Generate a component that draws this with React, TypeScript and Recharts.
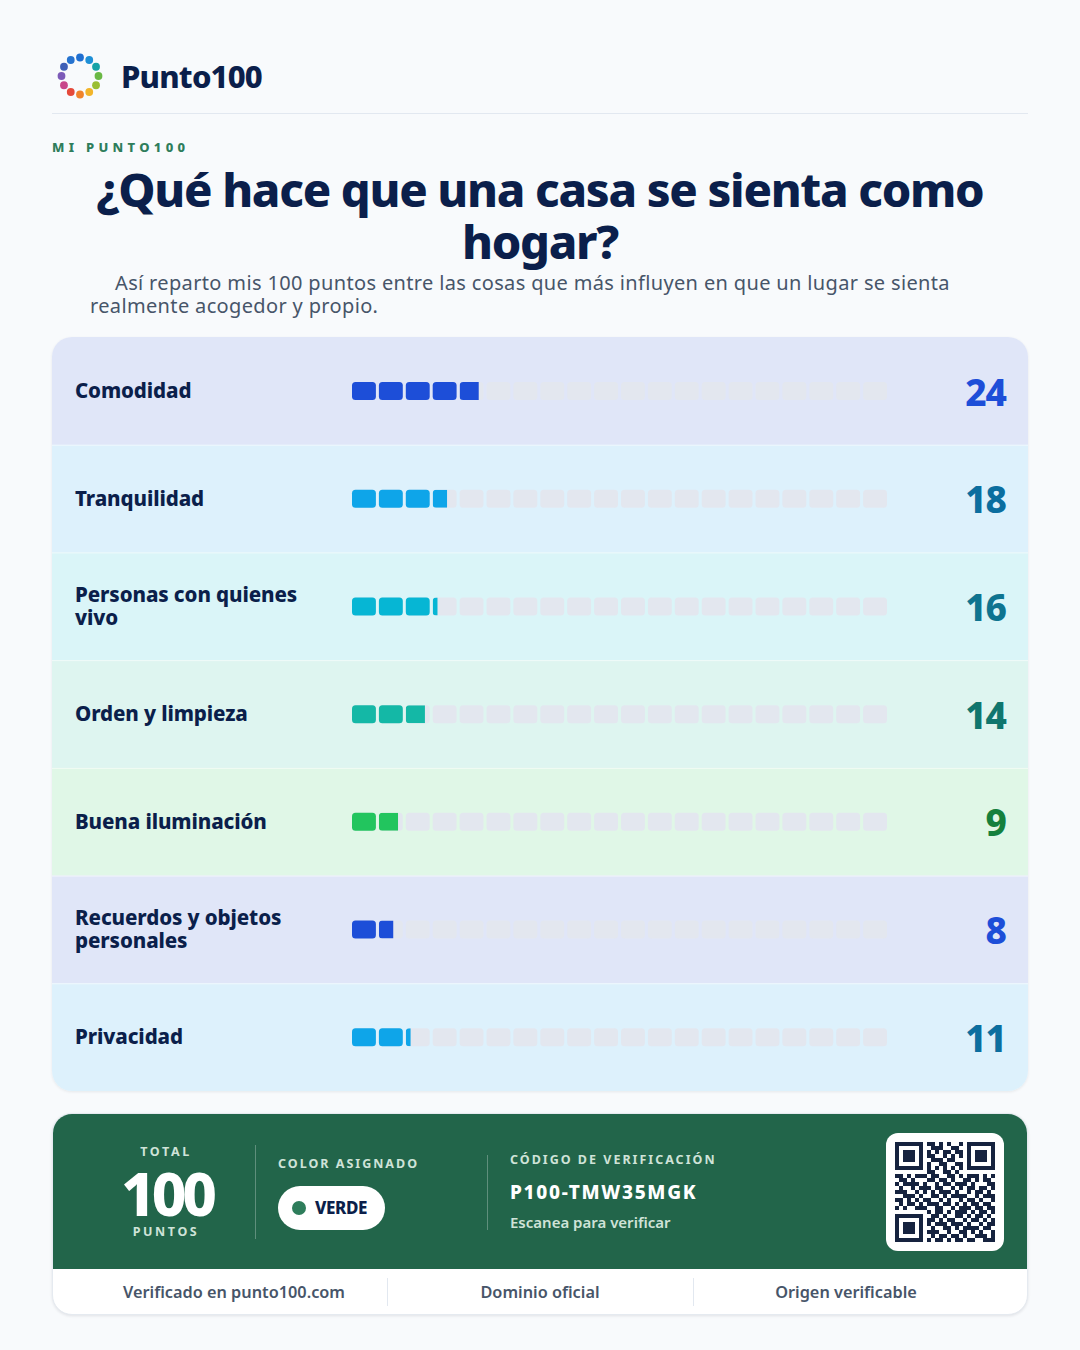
import React from 'react';
import { BarChart, Bar, XAxis, YAxis, LabelList, Text } from 'recharts';

// ---------- data ----------
const categories = [
  'Comodidad',
  'Tranquilidad',
  'Personas con quienes vivo',
  'Orden y limpieza',
  'Buena iluminación',
  'Recuerdos y objetos personales',
  'Privacidad',
];
const points = [24, 18, 16, 14, 9, 8, 11];
const barColors = ['#1D4ED8', '#0EA5E9', '#06B6D4', '#14B8A6', '#22C55E', '#1D4ED8', '#0EA5E9'];
const valueColors = ['#1D4ED8', '#0B6E9F', '#0E7490', '#0F766E', '#15803D', '#1D4ED8', '#0B6E9F'];
const rowColors = ['#E0E6F8', '#DDF1FC', '#DAF5F8', '#DEF5F0', '#E0F7E7', '#E0E6F8', '#DDF1FC'];
const MAX_POINTS = 100;
const SEGMENTS = 20;
const POINTS_PER_SEGMENT = 5;

const footerTexts = ['Verificado en punto100.com', 'Dominio oficial', 'Origen verificable'];
const logoColors = ['#1F6FD1', '#1E8FD6', '#17A2A6', '#6AB845', '#9BBE32', '#F2B52A', '#F0832B', '#E5493A', '#C8478A', '#7C5AB8', '#3E5FB6', '#2673CF'];

const qrRows = [
  '1111111011010100101111111',
  '1000001001110011001000001',
  '1011101010101101101011101',
  '1011101011001010101011101',
  '1011101001110110001011101',
  '1000001010011001101000001',
  '1111111010101010101111111',
  '0000000011001101000000000',
  '1101011101100110101110101',
  '0110100011011010011010110',
  '1011110100101101110100011',
  '0100101110110010101101101',
  '1110010101011101001011010',
  '0011101001101011110010111',
  '1101010110010100101101001',
  '0101101011101101010110110',
  '1010011100110010111011011',
  '0000000010110101110101101',
  '1111111001101001101011010',
  '1000001011010110010110101',
  '1011101010111011101001011',
  '1011101001001101011110110',
  '1011101011100100110101001',
  '1000001001011011010011101',
  '1111111010110101101100111',
];

const data = categories.map((name, i) => ({ name, value: points[i] }));

// ---------- layout constants ----------
const NAVY = '#0B1F4B';
const CHART_W = 976;
const CHART_H = 754;
const FONT = "'Noto Sans', 'Open Sans', sans-serif";

const RowBackground = (props: any) => {
  const { y, height, index } = props;
  const i = typeof index === 'number' ? index : 0;
  return (
    <g>
      <rect x={0} y={y} width={CHART_W} height={height} fill={rowColors[i]} />
      {i > 0 && <rect x={0} y={y} width={CHART_W} height={1} fill="#FFFFFF" fillOpacity={0.55} />}
    </g>
  );
};

const SegmentBar = (props: any) => {
  const { x, y, width, height, payload, index } = props;
  const v = payload ? payload.value : props.value;
  const full = props.background && props.background.width ? props.background.width : (width * MAX_POINTS) / v;
  const pitch = full / SEGMENTS;
  const segW = pitch - 3;
  const segH = 18;
  const sy = y + height / 2 - segH / 2;
  const i = typeof index === 'number' ? index : points.indexOf(v);
  const color = barColors[i];
  const items: any[] = [];
  for (let s = 0; s < SEGMENTS; s++) {
    const sx = x + s * pitch;
    const frac = Math.max(0, Math.min(1, v / POINTS_PER_SEGMENT - s));
    items.push(<rect key={'g' + s} x={sx} y={sy} width={segW} height={segH} rx={3.5} fill="#E3E7EF" />);
    if (frac >= 1) {
      items.push(<rect key={'f' + s} x={sx} y={sy} width={segW} height={segH} rx={3.5} fill={color} />);
    } else if (frac > 0) {
      const id = `segclip-${i}-${s}`;
      items.push(
        <g key={'p' + s}>
          <defs>
            <clipPath id={id}>
              <rect x={sx} y={sy} width={segW * frac} height={segH} />
            </clipPath>
          </defs>
          <rect x={sx} y={sy} width={segW} height={segH} rx={3.5} fill={color} clipPath={`url(#${id})`} />
        </g>
      );
    }
  }
  return <g>{items}</g>;
};

const ValueLabel = (props: any) => {
  const { y, height, value, index } = props;
  const i = typeof index === 'number' ? index : points.indexOf(value);
  return (
    <text
      x={CHART_W - 22}
      y={y + height / 2}
      textAnchor="end"
      dominantBaseline="central"
      fontFamily={FONT}
      fontSize={37}
      fontWeight={800}
      letterSpacing={-1}
      fill={valueColors[i]}
    >
      {value}
    </text>
  );
};

const CategoryTick = (props: any) => {
  const { y, payload } = props;
  const style = { fontSize: 20.5, fontWeight: 800, fontFamily: FONT, letterSpacing: '-0.1px' };
  return (
    <Text
      x={23}
      y={y}
      width={195}
      verticalAnchor="middle"
      textAnchor="start"
      lineHeight="1.12em"
      style={style}
      fill={NAVY}
    >
      {payload.value}
    </Text>
  );
};

const Logo = () => {
  const dots = logoColors.map((c, k) => {
    const a = (-90 + k * 30) * (Math.PI / 180);
    return <circle key={k} cx={24 + 18.5 * Math.cos(a)} cy={24 + 18.5 * Math.sin(a)} r={3.9} fill={c} />;
  });
  return (
    <svg width={48} height={48} style={{ position: 'absolute', left: 56, top: 52 }}>
      {dots}
    </svg>
  );
};

const QR = () => {
  const m = 4;
  const cells: any[] = [];
  qrRows.forEach((row, r) => {
    row.split('').slice(0, 25).forEach((ch, c) => {
      if (ch === '1') cells.push(<rect key={r + '-' + c} x={c * m} y={r * m} width={m} height={m} fill="#16233F" />);
    });
  });
  return (
    <svg width={100} height={100} shapeRendering="crispEdges" style={{ position: 'absolute', left: 9, top: 9 }}>
      {cells}
    </svg>
  );
};

const smallCaps: React.CSSProperties = {
  position: 'absolute',
  fontSize: 12.5,
  fontWeight: 700,
  letterSpacing: 2.0,
  color: '#CFE3D8',
  whiteSpace: 'nowrap',
  lineHeight: '16px',
};

export default function App() {
  return (
    <div
      style={{
        position: 'absolute',
        left: 0,
        top: 0,
        width: 1080,
        height: 1350,
        background: '#F8FAFC',
        fontFamily: FONT,
        overflow: 'hidden',
      }}
    >
      {/* header */}
      <Logo />
      <div
        style={{
          position: 'absolute',
          left: 121,
          top: 55,
          fontSize: 31,
          fontWeight: 800,
          letterSpacing: -0.8,
          color: NAVY,
          lineHeight: '42px',
        }}
      >
        Punto100
      </div>
      <div style={{ position: 'absolute', left: 52, top: 113, width: 976, height: 1, background: '#E2E8F0' }} />
      <div
        style={{
          position: 'absolute',
          left: 52,
          top: 138,
          fontSize: 13,
          fontWeight: 800,
          letterSpacing: 4.3,
          color: '#2E7D5B',
          lineHeight: '18px',
        }}
      >
        MI PUNTO100
      </div>
      <div
        style={{
          position: 'absolute',
          left: 52,
          top: 163,
          width: 976,
          textAlign: 'center',
          fontSize: 47,
          fontWeight: 800,
          letterSpacing: -1.3,
          lineHeight: '52px',
          color: NAVY,
        }}
      >
        ¿Qué hace que una casa se sienta como hogar?
      </div>
      <div
        style={{
          position: 'absolute',
          left: 90,
          top: 271,
          width: 900,
          fontSize: 20,
          letterSpacing: 0.35,
          lineHeight: '23px',
          textIndent: 25,
          color: '#475569',
        }}
      >
        Así reparto mis 100 puntos entre las cosas que más influyen en que un lugar se sienta realmente acogedor y propio.
      </div>

      {/* chart card */}
      <div
        style={{
          position: 'absolute',
          left: 52,
          top: 337,
          width: CHART_W,
          height: CHART_H,
          borderRadius: 20,
          overflow: 'hidden',
          boxShadow: '0 1px 3px rgba(15,23,42,0.08)',
        }}
      >
        <BarChart
          width={CHART_W}
          height={CHART_H}
          data={data}
          layout="vertical"
          margin={{ top: 0, right: 138, bottom: 0, left: 0 }}
          barCategoryGap={0}
        >
          <XAxis type="number" domain={[0, MAX_POINTS]} hide />
          <YAxis
            type="category"
            dataKey="name"
            width={300}
            axisLine={false}
            tickLine={false}
            tick={<CategoryTick />}
            interval={0}
          />
          <Bar
            dataKey="value"
            isAnimationActive={false}
            background={<RowBackground />}
            shape={<SegmentBar />}
          >
            <LabelList dataKey="value" content={<ValueLabel />} />
          </Bar>
        </BarChart>
      </div>

      {/* footer card */}
      <div
        style={{
          position: 'absolute',
          left: 52,
          top: 1113,
          width: 976,
          height: 202,
          borderRadius: 20,
          overflow: 'hidden',
          background: '#FFFFFF',
          boxShadow: '0 1px 3px rgba(15,23,42,0.10)',
          border: '1px solid #E5EAF0',
          boxSizing: 'border-box',
        }}
      >
        <div style={{ position: 'absolute', left: 0, top: 0, width: 976, height: 155, background: '#22654A' }}>
          <div style={{ ...smallCaps, letterSpacing: 2.6, left: 63, width: 100, textAlign: 'center', top: 30 }}>TOTAL</div>
          <div
            style={{
              position: 'absolute',
              left: 34,
              width: 160,
              textAlign: 'center',
              top: 54,
              fontSize: 60,
              fontWeight: 800,
              letterSpacing: -4,
              color: '#FFFFFF',
              lineHeight: '50px',
            }}
          >
            100
          </div>
          <div style={{ ...smallCaps, letterSpacing: 2.6, left: 63, width: 100, textAlign: 'center', top: 110 }}>PUNTOS</div>
          <div style={{ position: 'absolute', left: 202, top: 31, width: 1, height: 94, background: 'rgba(255,255,255,0.28)' }} />
          <div style={{ ...smallCaps, left: 225, top: 42 }}>COLOR ASIGNADO</div>
          <div
            style={{
              position: 'absolute',
              left: 225,
              top: 72,
              width: 107,
              height: 44,
              borderRadius: 22,
              background: '#FFFFFF',
            }}
          >
            <div style={{ position: 'absolute', left: 14, top: 15, width: 14, height: 14, borderRadius: 7, background: '#2E7D5B' }} />
            <div
              style={{
                position: 'absolute',
                left: 37,
                top: 10,
                fontSize: 17,
                fontWeight: 800,
                letterSpacing: -0.4,
                color: NAVY,
                lineHeight: '24px',
              }}
            >
              VERDE
            </div>
          </div>
          <div style={{ position: 'absolute', left: 434, top: 41, width: 1, height: 75, background: 'rgba(255,255,255,0.28)' }} />
          <div style={{ ...smallCaps, left: 457, top: 38 }}>CÓDIGO DE VERIFICACIÓN</div>
          <div
            style={{
              position: 'absolute',
              left: 457,
              top: 64,
              fontSize: 19,
              fontWeight: 800,
              letterSpacing: 1.7,
              color: '#FFFFFF',
              lineHeight: '28px',
            }}
          >
            P100-TMW35MGK
          </div>
          <div
            style={{
              position: 'absolute',
              left: 457,
              top: 98,
              fontSize: 15,
              fontWeight: 600,
              color: '#CFE3D8',
              lineHeight: '20px',
            }}
          >
            Escanea para verificar
          </div>
          <div
            style={{
              position: 'absolute',
              left: 833,
              top: 19,
              width: 118,
              height: 118,
              borderRadius: 12,
              background: '#FFFFFF',
            }}
          >
            <QR />
          </div>
        </div>
        {footerTexts.map((t, k) => (
          <div
            key={t}
            style={{
              position: 'absolute',
              left: k * 306,
              width: 362,
              top: 155,
              height: 46,
              lineHeight: '46px',
              textAlign: 'center',
              fontSize: 16.3,
              fontWeight: 600,
              color: '#475569',
            }}
          >
            {t}
          </div>
        ))}
        <div style={{ position: 'absolute', left: 334, top: 164, width: 1, height: 28, background: '#E2E8F0' }} />
        <div style={{ position: 'absolute', left: 640, top: 164, width: 1, height: 28, background: '#E2E8F0' }} />
      </div>
    </div>
  );
}
